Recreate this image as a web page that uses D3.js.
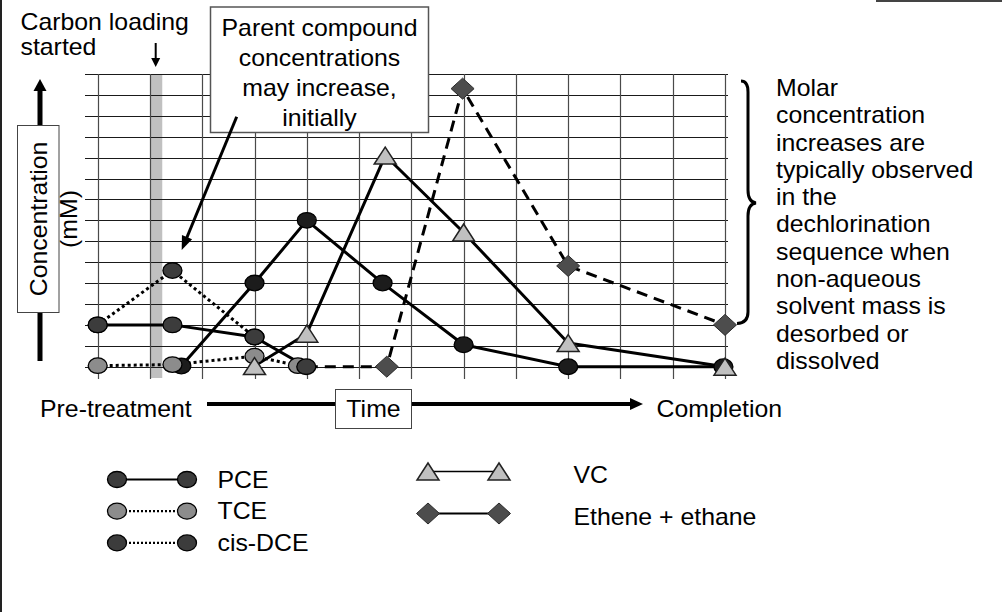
<!DOCTYPE html>
<html>
<head>
<meta charset="utf-8">
<script src="https://cdn.jsdelivr.net/npm/d3@7"></script>
<style>
  html, body { margin: 0; padding: 0; background: #fff; }
  svg { display: block; }
  text { font-family: "Liberation Sans", Arial, Helvetica, sans-serif; fill: #000; }
</style>
</head>
<body>
<svg id="chart" width="1002" height="612"></svg>
<script>
// Time is in grid columns: 0 = pre-treatment, 12 = completion.
// Concentration is in grid rows (relative molar units).
const pceTime = [0, 1.43, 3, 3.99];
const pceConc = [2.0, 2.0, 1.42, 0.0];

const pceRiseTime = [0, 1.43, 3];
const pceRiseConc = [2.0, 4.6, 1.42];

const tceTime = [0, 1.43, 3, 3.83];
const tceConc = [0.05, 0.1, 0.5, 0.05];

const cisDceTime = [1.6, 3, 4, 5.45, 7, 9, 11.97];
const cisDceConc = [0.03, 4.0, 7.0, 4.0, 1.05, 0.0, 0.0];

const vcTime = [3, 4, 5.5, 7, 9, 12];
const vcConc = [0.03, 1.58, 10.1, 6.42, 1.13, 0.0];

const etheneTime = [4, 5.53, 6.98, 9, 12];
const etheneConc = [0.0, 0.0, 13.3, 4.82, 2.0];

// Period when the carbon amendment was loaded
const carbonLoading = [1.0, 1.235];

const legendLeft = ["PCE", "TCE", "cis-DCE"];
const legendRight = ["VC", "Ethene + ethane"];

const noteLines = ["Molar", "concentration", "increases are", "typically observed",
  "in the", "dechlorination", "sequence when", "non-aqueous",
  "solvent mass is", "desorbed or", "dissolved"];
const calloutLines = ["Parent compound", "concentrations", "may increase,", "initially"];

const FONT = 23;      // text size
const WIDEN = 1.08;   // slightly widened lettering

const svg = d3.select("#chart");
svg.append("rect").attr("width", 1002).attr("height", 612).attr("fill", "#fff");

const x = d3.scaleLinear().domain([0, 12]).range([97.7, 725]);
const y = d3.scaleLinear().domain([0, 14]).range([366.7, 74]);

const zip = (ts, cs) => ts.map((t, i) => ({ t, c: cs[i] }));

// multi-line text block anchored at (tx, ty) = first baseline
function label(g, tx, ty, lines, spacing, anchor, extra) {
  const grp = g.append("g")
    .attr("transform", `translate(${tx},${ty})${extra || ""} scale(${WIDEN},1)`);
  const t = grp.append("text").attr("font-size", FONT).attr("text-anchor", anchor || "start");
  lines.forEach((s, i) => t.append("tspan").attr("x", 0).attr("y", i * spacing).text(s));
  return grp;
}

// ---- grid ----
const grid = svg.append("g");
grid.append("rect")
  .attr("x", x(carbonLoading[0])).attr("y", y(14))
  .attr("width", x(carbonLoading[1]) - x(carbonLoading[0]))
  .attr("height", 378 - y(14))
  .attr("fill", "#c0c0c0");
grid.selectAll("line.h").data(y.ticks(14)).join("line")
  .attr("class", "h")
  .attr("x1", 85).attr("x2", 728)
  .attr("y1", d => Math.round(y(d)) + 0.5).attr("y2", d => Math.round(y(d)) + 0.5)
  .attr("stroke", "#1a1a1a").attr("stroke-width", 1);
grid.selectAll("line.v").data(x.ticks(12)).join("line")
  .attr("class", "v")
  .attr("x1", d => Math.round(x(d)) + 0.5).attr("x2", d => Math.round(x(d)) + 0.5)
  .attr("y1", y(14)).attr("y2", 379)
  .attr("stroke", "#4a4a4a").attr("stroke-width", 1.2);

// ---- series lines ----
const line = d3.line().x(d => x(d.t)).y(d => y(d.c));
const lineSpecs = [
  { data: zip(etheneTime, etheneConc), dash: "11,7" },
  { data: zip(cisDceTime, cisDceConc), dash: null },
  { data: zip(tceTime, tceConc), dash: "3,3" },
  { data: zip(pceTime, pceConc), dash: null },
  { data: zip(pceRiseTime, pceRiseConc), dash: "3,3" },
  { data: zip(vcTime, vcConc), dash: null }
];
const lines = svg.append("g");
lineSpecs.forEach(s => {
  lines.append("path")
    .attr("d", line(s.data))
    .attr("fill", "none")
    .attr("stroke", "#000")
    .attr("stroke-width", 3)
    .attr("stroke-linejoin", "round")
    .attr("stroke-dasharray", s.dash);
});

// ---- markers ----
const markers = svg.append("g");
function circles(data, fill) {
  markers.selectAll(null).data(data).join("ellipse")
    .attr("cx", d => x(d.t)).attr("cy", d => y(d.c))
    .attr("rx", 9.5).attr("ry", 7.8)
    .attr("fill", fill).attr("stroke", "#000").attr("stroke-width", 1.3);
}
const triPath = (cx, cy) => `M${cx - 11},${cy + 8.5}L${cx + 11},${cy + 8.5}L${cx},${cy - 8.5}Z`;
const diaPath = (cx, cy) => `M${cx},${cy - 10.5}L${cx + 11.5},${cy}L${cx},${cy + 10.5}L${cx - 11.5},${cy}Z`;

circles(zip(cisDceTime, cisDceConc), "#1c1c1c");
circles(zip(tceTime, tceConc), "#8c8c8c");
circles(zip(pceTime, pceConc), "#3c3c3c");
circles(zip(pceRiseTime, pceRiseConc), "#3c3c3c");
markers.selectAll(null).data(zip(vcTime, vcConc)).join("path")
  .attr("d", d => triPath(x(d.t), y(d.c)))
  .attr("fill", "#c0c0c0").attr("stroke", "#222").attr("stroke-width", 1.5);
// the zero reading at t = 4 sits beneath the chlorinated-ethene circles
markers.selectAll(null).data(zip(etheneTime, etheneConc).slice(1)).join("path")
  .attr("d", d => diaPath(x(d.t), y(d.c)))
  .attr("fill", "#4d4d4d").attr("stroke", "#2a2a2a").attr("stroke-width", 1);

// ---- arrows ----
function arrow(g, x1, y1, x2, y2, w, headLen, headHalf) {
  const dx = x2 - x1, dy = y2 - y1, L = Math.hypot(dx, dy);
  const ux = dx / L, uy = dy / L, px = -uy, py = ux;
  const bx = x2 - ux * headLen, by = y2 - uy * headLen;
  g.append("line")
    .attr("x1", x1).attr("y1", y1).attr("x2", bx + ux * 1).attr("y2", by + uy * 1)
    .attr("stroke", "#000").attr("stroke-width", w);
  g.append("path")
    .attr("d", `M${x2},${y2}L${bx + px * headHalf},${by + py * headHalf}L${bx - px * headHalf},${by - py * headHalf}Z`)
    .attr("fill", "#000");
}
const ann = svg.append("g");

// frame edges
ann.append("line").attr("x1", 1).attr("x2", 1).attr("y1", 0).attr("y2", 612)
  .attr("stroke", "#222").attr("stroke-width", 2);
ann.append("line").attr("x1", 876).attr("x2", 1002).attr("y1", 1).attr("y2", 1)
  .attr("stroke", "#444").attr("stroke-width", 2);

// Carbon loading label and marker arrow
label(ann, 20.5, 30, ["Carbon loading", "started"], 25);
arrow(ann, 155.7, 43, 155.7, 67, 2, 9, 4.5);

// vertical concentration axis
arrow(ann, 40, 361, 40, 79, 5, 12, 6.5);
ann.append("rect").attr("x", 17.5).attr("y", 125.5).attr("width", 41.5).attr("height", 187)
  .attr("fill", "#fff").attr("stroke", "#444").attr("stroke-width", 1);
label(ann, 47, 219, ["Concentration"], 0, "middle", " rotate(-90)");
label(ann, 77, 219, ["(mM)"], 0, "middle", " rotate(-90)");

// horizontal time axis
arrow(ann, 207, 404, 643, 404, 4, 13, 6);
ann.append("rect").attr("x", 335.5).attr("y", 389.5).attr("width", 76).attr("height", 39)
  .attr("fill", "#fff").attr("stroke", "#444").attr("stroke-width", 1);
label(ann, 373.5, 417, ["Time"], 0, "middle");
label(ann, 40, 417, ["Pre-treatment"], 0);
label(ann, 656.5, 417, ["Completion"], 0);

// callout box with arrow to the early rise
ann.append("rect").attr("x", 210.5).attr("y", 7).attr("width", 218).attr("height", 125.5)
  .attr("fill", "#fff").attr("stroke", "#555").attr("stroke-width", 1.5);
label(ann, 319.5, 36, calloutLines, 30, "middle");
arrow(ann, 236.7, 116.7, 181.7, 250, 3, 14, 5.5);

// brace and note on the right
ann.append("path")
  .attr("d", "M741,81 Q748,81 748,92 L748,190 Q748,202 756,203 Q748,204 748,216 L748,312 Q748,323 737,323.5")
  .attr("fill", "none").attr("stroke", "#000").attr("stroke-width", 3);
label(ann, 776, 96, noteLines, 27.3);

// ---- legend ----
const leg = svg.append("g");
const leftStyles = [
  { fill: "#3c3c3c", dash: null },
  { fill: "#8c8c8c", dash: "2,2" },
  { fill: "#3c3c3c", dash: "2,2" }
];
legendLeft.forEach((name, i) => {
  const cy = 479.5 + 31.7 * i;
  leg.append("line").attr("x1", 117).attr("x2", 187).attr("y1", cy).attr("y2", cy)
    .attr("stroke", "#000").attr("stroke-width", 2.2).attr("stroke-dasharray", leftStyles[i].dash);
  [117, 187].forEach(cx => {
    leg.append("ellipse").attr("cx", cx).attr("cy", cy).attr("rx", 9.5).attr("ry", 8)
      .attr("fill", leftStyles[i].fill).attr("stroke", "#000").attr("stroke-width", 1.3);
  });
  label(leg, 217.5, cy + 8, [name], 0);
});
legendRight.forEach((name, i) => {
  const cy = i === 0 ? 471.5 : 513.5;
  leg.append("line").attr("x1", 428).attr("x2", 499).attr("y1", cy).attr("y2", cy)
    .attr("stroke", "#000").attr("stroke-width", i === 0 ? 1.5 : 2);
  [428, 499].forEach(cx => {
    leg.append("path").attr("d", i === 0 ? triPath(cx, cy) : diaPath(cx, cy))
      .attr("fill", i === 0 ? "#c0c0c0" : "#4d4d4d")
      .attr("stroke", i === 0 ? "#222" : "#2a2a2a").attr("stroke-width", i === 0 ? 1.5 : 1);
  });
  label(leg, 573.5, i === 0 ? 483 : 524.5, [name], 0);
});
</script>
</body>
</html>
